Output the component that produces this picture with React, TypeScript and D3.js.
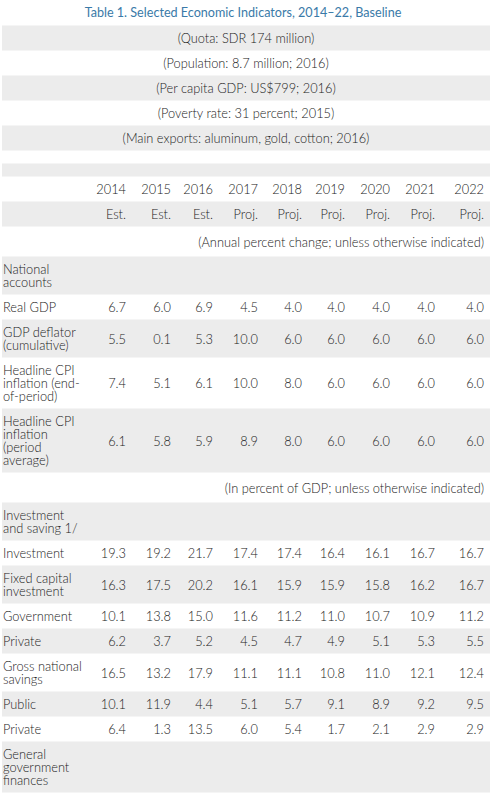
import React from 'react';
import * as d3 from 'd3';

const title = 'Table 1. Selected Economic Indicators, 2014–22, Baseline';
const headerNotes = [
  '(Quota: SDR 174 million)',
  '(Population: 8.7 million; 2016)',
  '(Per capita GDP: US$799; 2016)',
  '(Poverty rate: 31 percent; 2015)',
  '(Main exports: aluminum, gold, cotton; 2016)',
];
const years = ['2014', '2015', '2016', '2017', '2018', '2019', '2020', '2021', '2022'];
const status = ['Est.', 'Est.', 'Est.', 'Proj.', 'Proj.', 'Proj.', 'Proj.', 'Proj.', 'Proj.'];
const noteAnnual = '(Annual percent change; unless otherwise indicated)';
const notePercentGDP = '(In percent of GDP; unless otherwise indicated)';

const realGDP = [6.7, 6.0, 6.9, 4.5, 4.0, 4.0, 4.0, 4.0, 4.0];
const gdpDeflator = [5.5, 0.1, 5.3, 10.0, 6.0, 6.0, 6.0, 6.0, 6.0];
const cpiEnd = [7.4, 5.1, 6.1, 10.0, 8.0, 6.0, 6.0, 6.0, 6.0];
const cpiAvg = [6.1, 5.8, 5.9, 8.9, 8.0, 6.0, 6.0, 6.0, 6.0];
const investment = [19.3, 19.2, 21.7, 17.4, 17.4, 16.4, 16.1, 16.7, 16.7];
const fixedCapital = [16.3, 17.5, 20.2, 16.1, 15.9, 15.9, 15.8, 16.2, 16.7];
const government = [10.1, 13.8, 15.0, 11.6, 11.2, 11.0, 10.7, 10.9, 11.2];
const privateInv = [6.2, 3.7, 5.2, 4.5, 4.7, 4.9, 5.1, 5.3, 5.5];
const grossSavings = [16.5, 13.2, 17.9, 11.1, 11.1, 10.8, 11.0, 12.1, 12.4];
const publicSav = [10.1, 11.9, 4.4, 5.1, 5.7, 9.1, 8.9, 9.2, 9.5];
const privateSav = [6.4, 1.3, 13.5, 6.0, 5.4, 1.7, 2.1, 2.9, 2.9];

type Row =
  | { kind: 'center'; text: string }
  | { kind: 'spacer' }
  | { kind: 'cols'; cells: string[] }
  | { kind: 'note'; text: string }
  | { kind: 'data'; label: string[]; values?: number[] };

const rows: Row[] = [
  ...headerNotes.map((t) => ({ kind: 'center', text: t } as Row)),
  { kind: 'spacer' },
  { kind: 'spacer' },
  { kind: 'cols', cells: years },
  { kind: 'cols', cells: status },
  { kind: 'note', text: noteAnnual },
  { kind: 'data', label: ['National', 'accounts'] },
  { kind: 'data', label: ['Real GDP'], values: realGDP },
  { kind: 'data', label: ['GDP deflator', '(cumulative)'], values: gdpDeflator },
  { kind: 'data', label: ['Headline CPI', 'inflation (end-', 'of-period)'], values: cpiEnd },
  { kind: 'data', label: ['Headline CPI', 'inflation', '(period', 'average)'], values: cpiAvg },
  { kind: 'note', text: notePercentGDP },
  { kind: 'data', label: ['Investment', 'and saving 1/'] },
  { kind: 'data', label: ['Investment'], values: investment },
  { kind: 'data', label: ['Fixed capital', 'investment'], values: fixedCapital },
  { kind: 'data', label: ['Government'], values: government },
  { kind: 'data', label: ['Private'], values: privateInv },
  { kind: 'data', label: ['Gross national', 'savings'], values: grossSavings },
  { kind: 'data', label: ['Public'], values: publicSav },
  { kind: 'data', label: ['Private'], values: privateSav },
  { kind: 'data', label: ['General', 'government', 'finances'] },
];

const W = 493;
const H = 800;
const tableLeft = 2;
const tableRight = 490;
const labelColRight = 87;
const colWidths = [45, 45, 42, 45, 44, 43, 45, 45, 49];
const cellPad = 6;
const lineH = 13;
const titleH = 25.5;
const FONT = 'Lato, "Open Sans", sans-serif';
const FS = 12.8;
const FW = 300;
const TEXT = '#222222';
const STRIPE = '#ececec';

function rowHeight(r: Row): number {
  if (r.kind === 'spacer') return 13;
  if (r.kind === 'note') return 30;
  if (r.kind === 'data') return 12 + lineH * r.label.length;
  return 25;
}

export default function App() {
  const rights = d3.cumsum(colWidths).map((w) => labelColRight + w);
  const xRight = d3.scaleOrdinal<number, number>().domain(d3.range(years.length)).range(rights);
  const heights = rows.map(rowHeight);
  const tops = [titleH, ...d3.cumsum(heights).map((h) => titleH + h)];
  const fmt = d3.format('.1f');
  const t = { fontSize: FS, fontWeight: FW, fill: TEXT, dominantBaseline: 'central' as const };

  return (
    <svg
      width={W}
      height={H}
      style={{ position: 'absolute', left: 0, top: 0, background: '#fff' }}
      fontFamily={FONT}
    >
      <text x={243} y={titleH / 2} textAnchor="middle" dominantBaseline="central" fontSize={12.6} fontWeight={FW + 100} fill="#3a7aa8">
        {title}
      </text>
      {rows.map((r, i) => {
        const y0 = tops[i];
        const h = heights[i];
        const mid = y0 + h / 2;
        return (
          <g key={i}>
            {i % 2 === 0 && <rect x={tableLeft} y={y0} width={tableRight - tableLeft} height={h} fill={STRIPE} />}
            {r.kind === 'center' && (
              <text x={(tableLeft + tableRight) / 2} y={mid} textAnchor="middle" {...t}>
                {r.text}
              </text>
            )}
            {r.kind === 'note' && (
              <text x={tableRight - cellPad} y={mid} textAnchor="end" {...t}>
                {r.text}
              </text>
            )}
            {r.kind === 'cols' &&
              r.cells.map((c, j) => (
                <text key={j} x={xRight(j) - cellPad} y={mid} textAnchor="end" {...t}>
                  {c}
                </text>
              ))}
            {r.kind === 'data' && (
              <>
                {r.label.map((l, k) => (
                  <text key={k} x={tableLeft + 1} y={y0 + 6 + lineH / 2 + k * lineH} {...t}>
                    {l}
                  </text>
                ))}
                {r.values &&
                  r.values.map((v, j) => (
                    <text key={j} x={xRight(j) - cellPad} y={mid} textAnchor="end" {...t}>
                      {fmt(v)}
                    </text>
                  ))}
              </>
            )}
          </g>
        );
      })}
    </svg>
  );
}
